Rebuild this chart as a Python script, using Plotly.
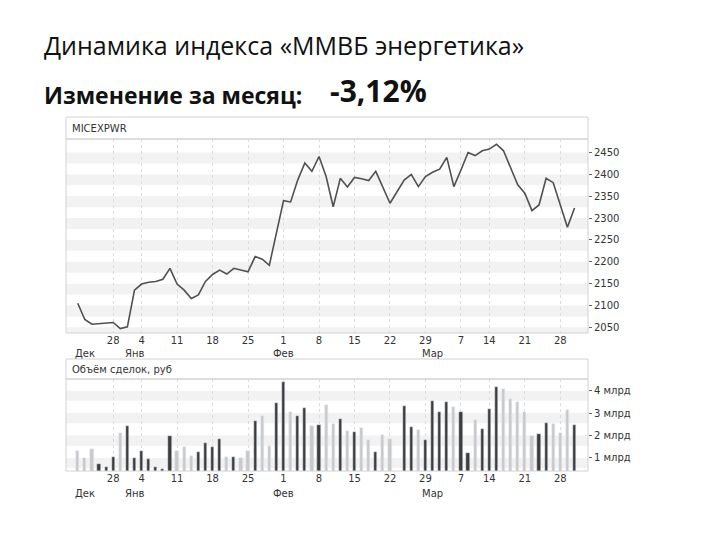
import plotly.graph_objects as go

# trading days, Dec 2011 - Mar 2012 (Feb 23 kept on the axis, no trading)
dates = [
    "2011-12-21", "2011-12-22", "2011-12-23", "2011-12-26", "2011-12-27",
    "2011-12-28", "2011-12-29", "2011-12-30", "2012-01-03", "2012-01-04",
    "2012-01-05", "2012-01-06", "2012-01-09", "2012-01-10", "2012-01-11",
    "2012-01-12", "2012-01-13", "2012-01-16", "2012-01-17", "2012-01-18",
    "2012-01-19", "2012-01-20", "2012-01-23", "2012-01-24", "2012-01-25",
    "2012-01-26", "2012-01-27", "2012-01-30", "2012-01-31", "2012-02-01",
    "2012-02-02", "2012-02-03", "2012-02-06", "2012-02-07", "2012-02-08",
    "2012-02-09", "2012-02-10", "2012-02-13", "2012-02-14", "2012-02-15",
    "2012-02-16", "2012-02-17", "2012-02-20", "2012-02-21", "2012-02-22",
    "2012-02-23", "2012-02-24", "2012-02-27", "2012-02-28", "2012-02-29",
    "2012-03-01", "2012-03-02", "2012-03-05", "2012-03-06", "2012-03-07",
    "2012-03-11", "2012-03-12", "2012-03-13", "2012-03-14", "2012-03-15",
    "2012-03-16", "2012-03-19", "2012-03-20", "2012-03-21", "2012-03-22",
    "2012-03-23", "2012-03-26", "2012-03-27", "2012-03-28", "2012-03-29",
    "2012-03-30",
]

close = [
    2105, 2068, 2057, 2058, 2060, 2061, 2047, 2051, 2135, 2149,
    2153, 2155, 2160, 2185, 2149, 2135, 2116, 2124, 2155, 2171,
    2181, 2172, 2185, 2181, 2177, 2212, 2206, 2192, 2265, 2340,
    2337, 2387, 2426, 2407, 2441, 2395, 2326, 2391, 2371, 2393,
    2390, 2386, 2407, 2372, 2334, None, 2387, 2400, 2372, 2395,
    2405, 2412, 2439, 2372, 2410, 2450, 2443, 2454, 2458, 2469,
    2454, 2414, 2376, 2357, 2317, 2330, 2391, 2381, 2330, 2279,
    2323,
]

# volume, bln rub
volume = [
    1.32, 1.01, 1.40, 0.71, 0.62, 1.04, 2.10, 2.44, 0.98, 1.32,
    0.95, 0.62, 0.50, 1.96, 1.32, 1.50, 1.09, 1.28, 1.65, 1.50,
    1.83, 1.03, 1.04, 1.01, 1.32, 2.65, 2.86, 1.53, 3.44, 4.37,
    3.04, 2.88, 3.21, 2.42, 2.45, 3.35, 2.50, 2.72, 2.20, 2.14,
    2.35, 1.80, 1.26, 2.02, 1.83, None, 3.32, 2.39, 2.25, 1.79,
    3.55, 3.04, 3.50, 3.26, 3.06, 1.23, 2.69, 2.29, 3.18, 4.15,
    4.06, 3.64, 3.50, 3.06, 1.99, 2.05, 2.57, 2.51, 2.10, 3.14,
    2.47,
]

tick_days = ["2011-12-28", "2012-01-04", "2012-01-11", "2012-01-18", "2012-01-25",
             "2012-02-01", "2012-02-08", "2012-02-15", "2012-02-22", "2012-02-29",
             "2012-03-07", "2012-03-14", "2012-03-21", "2012-03-28"]
tick_text = [str(int(d[-2:])) for d in tick_days]

month_pos = ["2011-12-22", "2012-01-03", "2012-02-01", "2012-03-01"]
month_names = ["Дек", "Янв", "Фев", "Мар"]

index_ticks = [2050, 2100, 2150, 2200, 2250, 2300, 2350, 2400, 2450]
vol_ticks = [1, 2, 3, 4]

DARK = "#3d3d3d"
LIGHT = "#c9c9c9"
TXT = "#333333"
FRAME = "#d2d2d2"

# up day -> dark bar, down day -> light bar
bar_colors = []
prev = None
for c in close:
    if c is None:
        bar_colors.append(LIGHT)
        continue
    bar_colors.append(DARK if prev is not None and c > prev else LIGHT)
    prev = c

# page has an 8px body margin, so screen pixels are shifted by it
OFF = 8


def px(x):
    return (x - OFF) / 720


def py(y):
    return 1 - (y - OFF) / 540


fig = go.Figure()
fig.add_trace(go.Scatter(x=dates, y=close, mode="lines", connectgaps=True,
                         line=dict(color="#505050", width=1.6),
                         xaxis="x", yaxis="y", hoverinfo="skip"))
fig.add_trace(go.Bar(x=dates, y=volume, marker_color=bar_colors, width=0.45,
                     xaxis="x2", yaxis="y2", hoverinfo="skip"))

xdom = [px(66), px(588)]
xcommon = dict(type="category", categoryorder="array", categoryarray=dates,
               range=[-1.65, 71.9], tickvals=tick_days, ticktext=tick_text,
               showgrid=True, gridcolor="#dcdcdc", griddash="dot", gridwidth=1,
               ticks="", showline=False, zeroline=False,
               tickfont=dict(family="DejaVu Sans", size=10, color=TXT))
ycommon = dict(side="right", ticks="outside", ticklen=3, tickcolor="#666666",
               showgrid=False, zeroline=False, showline=False,
               tickfont=dict(family="DejaVu Sans", size=10, color=TXT))

fig.update_layout(
    width=720, height=540,
    margin=dict(l=0, r=0, t=0, b=0),
    paper_bgcolor="white", plot_bgcolor="white",
    showlegend=False, bargap=0,
    xaxis=dict(domain=xdom, anchor="y", **xcommon),
    yaxis=dict(domain=[py(333), py(139)], anchor="x", range=[2037, 2481],
               tickvals=index_ticks, ticktext=[str(v) for v in index_ticks], **ycommon),
    xaxis2=dict(domain=xdom, anchor="y2", **xcommon),
    yaxis2=dict(domain=[py(471), py(379)], anchor="x2", range=[0.42, 4.52],
                tickvals=vol_ticks, ticktext=[f"{v} млрд" for v in vol_ticks], **ycommon),
)

shapes = []
# light horizontal bands under each tick level
for v in index_ticks:
    shapes.append(dict(type="rect", xref="x domain", yref="y", x0=0, x1=1,
                       y0=v - 25, y1=v, fillcolor="#f2f2f2", line_width=0, layer="below"))
for v in vol_ticks:
    shapes.append(dict(type="rect", xref="x2 domain", yref="y2", x0=0, x1=1,
                       y0=v - 0.45, y1=v, fillcolor="#f2f2f2", line_width=0, layer="below"))
# panel frames and header strips
for top, sep, bottom in [(117, 139, 333), (359, 379, 471)]:
    shapes.append(dict(type="rect", xref="paper", yref="paper", x0=px(66), x1=px(588),
                       y0=py(bottom), y1=py(top), line=dict(color=FRAME, width=1)))
    shapes.append(dict(type="line", xref="paper", yref="paper", x0=px(66), x1=px(588),
                       y0=py(sep), y1=py(sep), line=dict(color=FRAME, width=1.5)))
fig.update_layout(shapes=shapes)

ann = [
    dict(text="Динамика индекса «ММВБ энергетика»", x=px(42), y=py(45),
         xanchor="left", font=dict(family="Open Sans", size=25, color="#111111")),
    dict(text="<b>Изменение за месяц:</b>", x=px(42), y=py(95),
         xanchor="left", font=dict(family="Open Sans", size=23, color="#111111")),
    dict(text="<b>-3,12%</b>", x=px(429), y=py(91),
         xanchor="right", font=dict(family="Open Sans", size=30, color="#111111")),
    dict(text="MICEXPWR", x=px(70), y=py(128),
         xanchor="left", font=dict(family="DejaVu Sans", size=10, color=TXT)),
    dict(text="Объём сделок, руб", x=px(70), y=py(369),
         xanchor="left", font=dict(family="DejaVu Sans", size=10, color=TXT)),
]
for d in ann:
    d.update(xref="paper", yref="paper", yanchor="middle", showarrow=False)
for pos, name in zip(month_pos, month_names):
    ann.append(dict(text=name, x=pos, xref="x", y=py(353), yref="paper",
                    xanchor="center", yanchor="middle", showarrow=False,
                    font=dict(family="DejaVu Sans", size=10, color=TXT)))
    ann.append(dict(text=name, x=pos, xref="x2", y=py(493), yref="paper",
                    xanchor="center", yanchor="middle", showarrow=False,
                    font=dict(family="DejaVu Sans", size=10, color=TXT)))
fig.update_layout(annotations=ann)

fig.write_html("out.html")
